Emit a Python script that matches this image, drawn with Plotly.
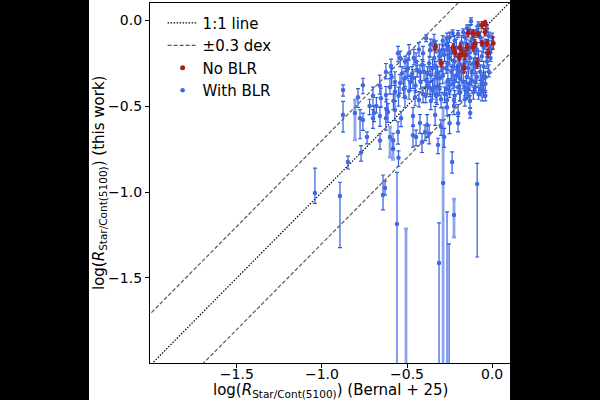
import plotly.graph_objects as go

# ---- data: With BLR (blue) ----
blue_x = [-0.124, -0.147, -0.090, -0.070, -0.030, -0.020, 0.000, -0.050, -0.010, -0.120,
          -0.160, -0.200, -0.220, -0.180, -0.140, -0.100, -0.060, -0.030, -0.250, -0.270,
          -0.290, -0.232, -0.265, -0.388, -0.341, -0.012, -0.040,
          -0.310, -0.280, -0.250, -0.220, -0.190, -0.160, -0.130, -0.100, -0.070, -0.040,
          -0.340, -0.370, -0.330, -0.300, -0.270, -0.240, -0.210, -0.180, -0.150, -0.120,
          -0.090, -0.060, -0.400, -0.360, -0.320, -0.290, -0.260, -0.230, -0.200, -0.170,
          -0.140, -0.110, -0.080, -0.050, -0.420, -0.380, -0.350, -0.310, -0.280, -0.250,
          -0.220, -0.190, -0.160, -0.130, -0.300, -0.341, -0.307,
          -0.553, -0.488, -0.512, -0.447, -0.406, -0.365, -0.624, -0.594, -0.571, -0.541,
          -0.512, -0.494, -0.465, -0.424, -0.388, -0.365, -0.876, -0.759, -0.788, -0.653,
          -0.624, -0.571, -0.512, -0.488, -0.453, -0.430, -0.406, -0.324, -0.265, -0.224,
          -0.188, -0.147, -0.059, -0.053, -0.100,
          -0.876, -0.776, -0.759, -0.735, -0.700, -0.694, -0.659, -0.659, -0.624, -0.612,
          -0.582, -0.571, -0.553, -0.535, -0.465, -0.465, -0.447, -0.424, -0.394, -0.382,
          -0.335, -0.318, -0.282, -0.265, -0.200, -0.129, -0.224, -0.550, -0.412, -0.370,
          -0.300, -0.250, -0.200, -0.040,
          -0.330, -0.310, -0.290, -0.260, -0.240, -0.210, -0.190, -0.170, -0.150, -0.130,
          -0.110, -0.090, -0.080, -0.050, -0.020, -0.110, -0.140, -0.170, -0.200, -0.230,
          -0.260, -0.290, -0.320, -0.350, -0.380, -0.410, -0.440, -0.470, -0.500, -0.530,
          -0.450, -0.480, -0.520, -0.550, -0.580, -0.600, -0.660, -0.700, -0.720, -0.680,
          -0.620, -0.250, -0.220, -0.190, -0.160, -0.130, -0.100, -0.070, -0.040, -0.270,
          -0.330, -0.360, -0.390, -0.100, -0.130, -0.170, -0.080, -0.060, -0.030, -0.010,
          -0.360, -0.430, -0.460, -0.540, -0.590,
          -1.041, -0.894, -0.847, -0.770, -0.641, -0.629, -0.559, -0.312, -0.265, -0.253,
          -0.235, -0.088]
blue_y = [-0.006, -0.047, -0.060, -0.100, -0.050, -0.090, -0.100, -0.160, -0.170, -0.110,
          -0.100, -0.080, -0.120, -0.130, -0.180, -0.190, -0.210, -0.240, -0.100, -0.140,
          -0.120, -0.076, -0.105, -0.105, -0.122, -0.163, -0.130,
          -0.180, -0.200, -0.220, -0.240, -0.260, -0.240, -0.220, -0.270, -0.300, -0.330,
          -0.220, -0.250, -0.270, -0.250, -0.280, -0.300, -0.320, -0.300, -0.330, -0.350,
          -0.330, -0.370, -0.300, -0.320, -0.340, -0.320, -0.350, -0.370, -0.390, -0.360,
          -0.400, -0.420, -0.430, -0.410, -0.360, -0.380, -0.410, -0.400, -0.430, -0.410,
          -0.440, -0.420, -0.460, -0.470, -0.460, -0.390, -0.337,
          -0.192, -0.192, -0.240, -0.240, -0.192, -0.175, -0.302, -0.267, -0.360, -0.366,
          -0.337, -0.279, -0.337, -0.302, -0.350, -0.395, -0.407, -0.378, -0.448, -0.455,
          -0.436, -0.419, -0.448, -0.410, -0.448, -0.465, -0.430, -0.430, -0.465, -0.465,
          -0.419, -0.419, -0.419, -0.337, -0.360,
          -0.552, -0.570, -0.581, -0.680, -0.570, -0.540, -0.558, -0.700, -0.570, -0.535,
          -0.698, -0.523, -0.651, -0.570, -0.558, -0.669, -0.680, -0.599, -0.651, -0.610,
          -0.552, -0.727, -0.680, -0.506, -0.541, -0.540, -0.500, -0.800, -0.710, -0.660,
          -0.620, -0.600, -0.600, -0.440,
          -0.150, -0.210, -0.170, -0.170, -0.190, -0.160, -0.200, -0.170, -0.140, -0.160,
          -0.140, -0.170, -0.230, -0.270, -0.300, -0.250, -0.280, -0.270, -0.290, -0.270,
          -0.250, -0.280, -0.310, -0.280, -0.310, -0.260, -0.290, -0.310, -0.290, -0.310,
          -0.380, -0.360, -0.400, -0.440, -0.470, -0.390, -0.380, -0.440, -0.500, -0.500,
          -0.520, -0.380, -0.350, -0.340, -0.390, -0.370, -0.390, -0.400, -0.370, -0.400,
          -0.440, -0.470, -0.440, -0.080, -0.060, -0.070, -0.030, -0.130, -0.190, -0.220,
          -0.140, -0.170, -0.220, -0.220, -0.330,
          -1.006, -1.023, -0.826, -0.770, -1.017, -0.977, -1.186, -1.413, -2.200, -2.250,
          -0.826, -0.953]
blue_eu = [0.02, 0.02, 0.025, 0.03, 0.02, 0.02, 0.025, 0.03, 0.02, 0.03,
           0.025, 0.02, 0.03, 0.04, 0.03, 0.04, 0.03, 0.03, 0.03, 0.04,
           0.03, 0.02, 0.03, 0.02, 0.04, 0.02, 0.02,
           0.04, 0.03, 0.05, 0.04, 0.03, 0.04, 0.03, 0.05, 0.04, 0.03,
           0.05, 0.04, 0.03, 0.06, 0.04, 0.03, 0.05, 0.04, 0.03, 0.04,
           0.03, 0.05, 0.04, 0.05, 0.03, 0.04, 0.06, 0.04, 0.03, 0.05,
           0.04, 0.03, 0.04, 0.03, 0.05, 0.04, 0.06, 0.03, 0.04, 0.05,
           0.03, 0.04, 0.05, 0.03, 0.04, 0.05, 0.04,
           0.04, 0.05, 0.03, 0.05, 0.04, 0.03, 0.05, 0.04, 0.06, 0.05,
           0.04, 0.06, 0.05, 0.04, 0.05, 0.04, 0.03, 0.04, 0.05, 0.06,
           0.05, 0.04, 0.05, 0.06, 0.04, 0.05, 0.04, 0.05, 0.04, 0.03,
           0.04, 0.05, 0.04, 0.03, 0.04,
           0.08, 0.05, 0.04, 0.03, 0.05, 0.04, 0.05, 0.04, 0.06, 0.05,
           0.04, 0.05, 0.06, 0.04, 0.05, 0.06, 0.04, 0.05, 0.04, 0.06,
           0.05, 0.04, 0.05, 0.04, 0.05, 0.03, 0.04, 0.04, 0.05, 0.05,
           0.04, 0.05, 0.04, 0.03,
           0.03, 0.04, 0.03, 0.04, 0.03, 0.05, 0.03, 0.04, 0.03, 0.04,
           0.03, 0.04, 0.05, 0.03, 0.04, 0.03, 0.04, 0.05, 0.03, 0.04,
           0.05, 0.03, 0.04, 0.05, 0.04, 0.03, 0.05, 0.04, 0.06, 0.04,
           0.05, 0.04, 0.06, 0.05, 0.04, 0.05, 0.06, 0.05, 0.04, 0.05,
           0.06, 0.04, 0.03, 0.05, 0.04, 0.03, 0.04, 0.05, 0.03, 0.04,
           0.05, 0.04, 0.05, 0.02, 0.03, 0.02, 0.02, 0.03, 0.02, 0.03,
           0.03, 0.04, 0.05, 0.04, 0.05,
           0.145, 0.08, 0.035, 0.04, 0.116, 0.04, 0.30, 0.233, 1.084, 0.948,
           0.06, 0.12]
blue_ed = [0.02, 0.025, 0.02, 0.03, 0.02, 0.03, 0.02, 0.03, 0.02, 0.03,
           0.03, 0.02, 0.04, 0.03, 0.03, 0.05, 0.03, 0.04, 0.03, 0.04,
           0.03, 0.02, 0.03, 0.02, 0.03, 0.02, 0.02,
           0.05, 0.04, 0.04, 0.05, 0.04, 0.03, 0.04, 0.04, 0.05, 0.04,
           0.04, 0.05, 0.04, 0.05, 0.03, 0.05, 0.04, 0.05, 0.04, 0.03,
           0.04, 0.04, 0.05, 0.04, 0.04, 0.05, 0.05, 0.03, 0.04, 0.04,
           0.05, 0.04, 0.03, 0.04, 0.04, 0.05, 0.05, 0.04, 0.05, 0.04,
           0.04, 0.05, 0.04, 0.04, 0.05, 0.04, 0.05,
           0.05, 0.04, 0.04, 0.06, 0.05, 0.04, 0.04, 0.05, 0.05, 0.06,
           0.05, 0.05, 0.06, 0.05, 0.04, 0.05, 0.035, 0.05, 0.06, 0.05,
           0.04, 0.05, 0.06, 0.05, 0.05, 0.04, 0.05, 0.06, 0.05, 0.04,
           0.05, 0.04, 0.05, 0.04, 0.05,
           0.10, 0.12, 0.06, 0.04, 0.06, 0.05, 0.06, 0.05, 0.07, 0.06,
           0.05, 0.06, 0.07, 0.05, 0.06, 0.07, 0.05, 0.06, 0.05, 0.07,
           0.06, 0.05, 0.06, 0.05, 0.06, 0.03, 0.05, 0.05, 0.06, 0.06,
           0.05, 0.06, 0.05, 0.03,
           0.04, 0.03, 0.04, 0.03, 0.04, 0.04, 0.05, 0.03, 0.04, 0.03,
           0.04, 0.03, 0.04, 0.05, 0.03, 0.04, 0.05, 0.03, 0.04, 0.05,
           0.04, 0.05, 0.03, 0.04, 0.05, 0.04, 0.04, 0.05, 0.05, 0.06,
           0.04, 0.05, 0.05, 0.06, 0.05, 0.04, 0.05, 0.06, 0.05, 0.04,
           0.05, 0.05, 0.04, 0.04, 0.05, 0.04, 0.03, 0.04, 0.05, 0.04,
           0.04, 0.05, 0.04, 0.02, 0.02, 0.03, 0.02, 0.02, 0.03, 0.02,
           0.04, 0.04, 0.04, 0.05, 0.05,
           0.06, 0.30, 0.04, 0.05, 0.087, 0.04, 1.20, 1.00, 0.10, 0.10,
           0.064, 0.425]

# ---- data: With BLR, points with the wider (lighter) error bars ----
light_x = [-0.506, -0.288, -0.224, -0.806, -0.600, -0.582, -0.150, -0.200, -0.120, -0.260, -0.330]
light_y = [-2.300, -0.948, -1.134, -0.540, -0.680, -0.750, -0.200, -0.270, -0.300, -0.150, -0.330]
light_eu = [1.085, 0.44, 0.093, 0.076, 0.058, 0.05, 0.06, 0.07, 0.05, 0.05, 0.06]
light_ed = [0.10, 1.20, 0.128, 0.157, 0.117, 0.06, 0.08, 0.05, 0.06, 0.07, 0.05]

# ---- data: No BLR (red) ----
red_x = [-0.059, -0.041, -0.141, -0.112, -0.082, -0.041, -0.029, 0.006, -0.059, -0.100,
         -0.147, -0.024, -0.335, -0.229, -0.218, -0.188, -0.176, -0.159, -0.112, -0.300,
         -0.194, -0.165, -0.088]
red_y = [-0.029, -0.017, -0.076, -0.076, -0.081, -0.070, -0.134, -0.134, -0.134, -0.134,
         -0.157, -0.192, -0.157, -0.157, -0.186, -0.157, -0.192, -0.203, -0.157, -0.250,
         -0.215, -0.279, -0.250]
red_eu = [0.02, 0.015, 0.02, 0.02, 0.015, 0.02, 0.02, 0.035, 0.015, 0.02,
          0.02, 0.025, 0.02, 0.02, 0.025, 0.02, 0.02, 0.025, 0.02, 0.02,
          0.02, 0.025, 0.03]
red_ed = [0.02, 0.015, 0.02, 0.02, 0.015, 0.02, 0.02, 0.035, 0.015, 0.02,
          0.02, 0.025, 0.02, 0.02, 0.025, 0.02, 0.02, 0.025, 0.02, 0.02,
          0.02, 0.025, 0.03]

line_x = [-2.2, 0.3]
dex_offset = 0.3
x_ticks = [-1.5, -1.0, -0.5, 0.0]
tick_text = ["\u22121.5", "\u22121.0", "\u22120.5", "0.0"]
x_title = "log(<i>R</i><sub>Star/Cont(5100)</sub>) (Bernal + 25)"
y_title = "log(<i>R</i><sub>Star/Cont(5100)</sub>) (this work)"

BLUE = "royalblue"
BAR_BLUE = "#2f5ce0"
RED = "#a51f1f"
FONT = "DejaVu Sans"

fig = go.Figure()

fig.add_trace(go.Scatter(
    x=line_x, y=line_x, mode="lines", name="1:1 line", legendrank=1,
    line=dict(color="black", width=1.2, dash="1.5px,1.5px")))
fig.add_trace(go.Scatter(
    x=line_x, y=[v + dex_offset for v in line_x], mode="lines", name="\u00b10.3 dex",
    legendrank=2, line=dict(color="rgba(0,0,0,0.65)", width=1.2, dash="4px,2px")))
fig.add_trace(go.Scatter(
    x=line_x, y=[v - dex_offset for v in line_x], mode="lines", showlegend=False,
    line=dict(color="rgba(0,0,0,0.65)", width=1.2, dash="4px,2px")))

fig.add_trace(go.Scatter(
    x=light_x, y=light_y, mode="markers", showlegend=False,
    marker=dict(color=BLUE, size=4.5),
    error_y=dict(type="data", symmetric=False, array=light_eu, arrayminus=light_ed,
                 color="rgba(65,105,225,0.6)", thickness=2.8, width=2)))

fig.add_trace(go.Scatter(
    x=blue_x, y=blue_y, mode="markers", name="With BLR", legendrank=4,
    marker=dict(color=BLUE, size=4.5),
    error_y=dict(type="data", symmetric=False, array=blue_eu, arrayminus=blue_ed,
                 color=BAR_BLUE, thickness=1.2, width=2)))

fig.add_trace(go.Scatter(
    x=red_x, y=red_y, mode="markers", name="No BLR", legendrank=3,
    marker=dict(color=RED, size=5),
    error_y=dict(type="data", symmetric=False, array=red_eu, arrayminus=red_ed,
                 color=RED, thickness=1.5, width=1.5)))

fig.add_shape(type="rect", xref="paper", yref="paper",
              x0=(89 - 150) / 360, x1=1.0, y0=-37 / 360, y1=1.01,
              fillcolor="white", line=dict(width=0), layer="below")

fig.add_annotation(text=x_title, xref="paper", yref="paper", x=0.5, y=(363 - 390) / 360,
                   xanchor="center", yanchor="middle", showarrow=False,
                   font=dict(family=FONT, size=15, color="black"))
fig.add_annotation(text=y_title, xref="paper", yref="paper", x=(99 - 150) / 360, y=0.5,
                   xanchor="center", yanchor="middle", showarrow=False, textangle=-90,
                   font=dict(family=FONT, size=15, color="black"))

axis_common = dict(
    showgrid=False, zeroline=False, showline=True, linecolor="black", linewidth=1.2,
    mirror=True, ticks="outside", ticklen=4, tickwidth=1, tickcolor="black",
    tickvals=x_ticks, ticktext=tick_text,
    tickfont=dict(family=FONT, size=14, color="black"))

fig.update_layout(
    width=600, height=400,
    margin=dict(l=150, r=90, t=3, b=37),
    paper_bgcolor="black", plot_bgcolor="white",
    font=dict(family=FONT, color="black"),
    showlegend=True,
    legend=dict(x=0.035, y=0.99, xanchor="left", yanchor="top",
                bgcolor="rgba(0,0,0,0)", font=dict(family=FONT, size=15),
                itemwidth=30, tracegroupgap=0),
    xaxis=dict(range=[-2.01, 0.105], ticklabelstandoff=-6, **axis_common),
    yaxis=dict(range=[-1.995, 0.1], **axis_common),
)

fig.write_html("out.html")
